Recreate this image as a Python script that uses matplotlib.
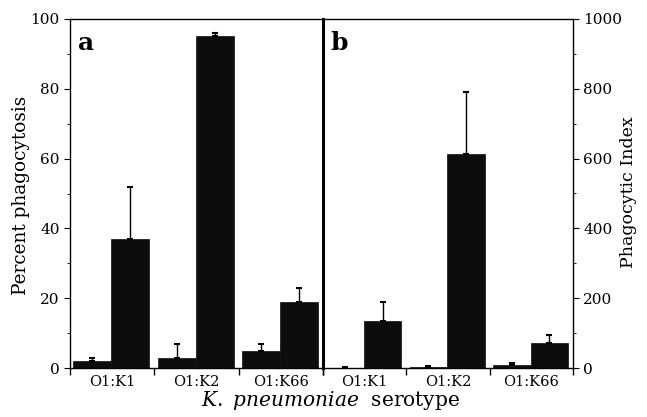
import matplotlib
matplotlib.use("Agg")
import matplotlib.pyplot as plt
import numpy as np

plt.rcParams['font.family'] = ['DejaVu Serif']
plt.rcParams['mathtext.fontset'] = 'custom'
plt.rcParams['mathtext.rm'] = 'DejaVu Serif'
plt.rcParams['mathtext.it'] = 'DejaVu Serif:italic'

serotypes = ["O1:K1", "O1:K2", "O1:K66"]
# panel a: percent phagocytosis (first bar, second bar) and upper error extents
pct_first = [2, 3, 5]
pct_first_err = [1, 4, 2]
pct_second = [37, 95, 19]
pct_second_err = [15, 1, 4]
# panel b: phagocytic index
idx_first = [1, 3, 8]
idx_first_err = [1, 3, 5]
idx_second = [135, 612, 73]
idx_second_err = [55, 178, 22]

fig = plt.figure(figsize=(6.47, 4.17), dpi=100)
axa = fig.add_axes([70/647, 1-368/417, 253/647, 349/417])
axb = fig.add_axes([323/647, 1-368/417, 250/647, 349/417])

x = np.arange(len(serotypes))
w = 0.45
barcol = '#0d0d0d'

def draw(ax, first, ferr, second, serr, ymax):
    ax.bar(x + 0.04, first, width=w, align='edge', color=barcol, edgecolor=barcol, lw=0.5)
    ax.bar(x + 0.04 + w, second, width=w, align='edge', color=barcol, edgecolor=barcol, lw=0.5)
    ax.errorbar(x + 0.04 + w/2, first, yerr=[np.zeros(3), ferr], fmt='none',
                ecolor='black', elinewidth=1, capsize=2, capthick=1.5)
    ax.errorbar(x + 0.04 + 1.5*w, second, yerr=[np.zeros(3), serr], fmt='none',
                ecolor='black', elinewidth=1, capsize=2, capthick=1.5)
    ax.set_xlim(0, 3)
    ax.set_ylim(0, ymax)
    ax.set_xticks([0, 1, 2, 3])
    ax.set_xticklabels([])
    ax.set_xticks([0.5, 1.5, 2.5], minor=True)
    ax.set_xticklabels(serotypes, minor=True, fontsize=10.5)
    ax.tick_params(axis='x', which='major', direction='out', length=5, width=1)
    ax.tick_params(axis='x', which='minor', length=0, pad=5)
    for s in ax.spines.values():
        s.set_linewidth(1.0)

draw(axa, pct_first, pct_first_err, pct_second, pct_second_err, 100)
draw(axb, idx_first, idx_first_err, idx_second, idx_second_err, 1000)

axa.set_yticks(np.arange(0, 101, 20))
axa.set_yticks(np.arange(10, 100, 20), minor=True)
axa.tick_params(axis='y', which='both', direction='out', labelsize=11)
axa.tick_params(axis='y', which='major', length=4)
axa.tick_params(axis='y', which='minor', length=2)
axa.set_ylabel("Percent phagocytosis", fontsize=13.3)
axa.yaxis.set_label_coords(-0.158, 0.496)
axa.spines['right'].set_visible(False)

axb.yaxis.tick_right()
axb.yaxis.set_label_position('right')
axb.set_yticks(np.arange(0, 1001, 200))
axb.set_yticks(np.arange(100, 1000, 200), minor=True)
axb.tick_params(axis='y', which='both', direction='out', labelsize=11)
axb.tick_params(axis='y', which='major', length=4)
axb.tick_params(axis='y', which='minor', length=2)
axb.set_ylabel("Phagocytic Index", fontsize=12.5)
axb.yaxis.set_label_coords(1.188, 0.504)
axb.spines['left'].set_linewidth(2.2)

axa.text(0.03, 0.965, "a", transform=axa.transAxes, fontsize=18, fontweight='bold', va='top', ha='left')
axb.text(0.03, 0.965, "b", transform=axb.transAxes, fontsize=18, fontweight='bold', va='top', ha='left')

fig.text(331/647, 1-401/417, r"$\it{K.\ pneumoniae}$  serotype", ha='center', va='center', fontsize=14.5)

fig.savefig("out.png", dpi=100)
